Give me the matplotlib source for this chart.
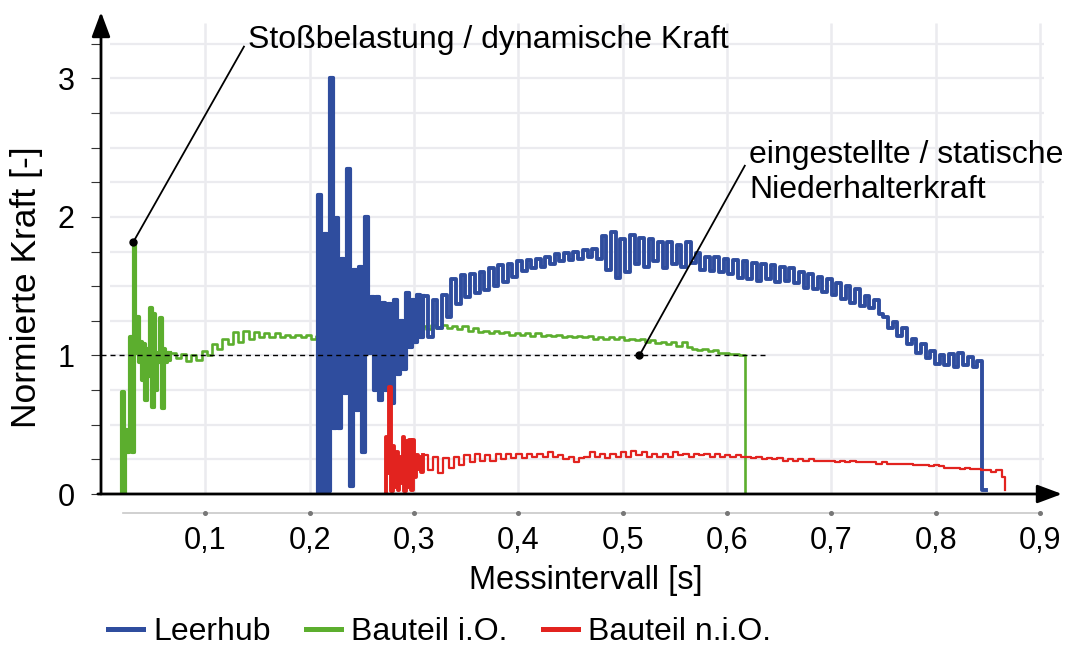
import numpy as np
import matplotlib
matplotlib.use("Agg")
import matplotlib.pyplot as plt
from matplotlib.lines import Line2D

# ---------------- data ----------------
x_ticks = [0.1, 0.2, 0.3, 0.4, 0.5, 0.6, 0.7, 0.8, 0.9]
x_tick_labels = ["0,1", "0,2", "0,3", "0,4", "0,5", "0,6", "0,7", "0,8", "0,9"]
y_ticks = [0, 1, 2, 3]
y_tick_labels = ["0", "1", "2", "3"]
y_minor_ticks = [0.25, 0.5, 0.75, 1.25, 1.5, 1.75, 2.25, 2.5, 2.75, 3.25]
series_names = ["Leerhub", "Bauteil i.O.", "Bauteil n.i.O."]
static_level = 1.0
static_line_end = 0.636

# Leerhub (blue)
leer_start = 0.208
leer_osc_dt = 0.0028
leer_osc_y = [2.16, 0.00, 1.88, 0.02, 3.00, 0.48, 1.99, 0.48, 1.70, 0.73,
              2.35, 0.06, 1.62, 0.61, 1.64, 0.30, 2.00, 1.02, 1.42, 0.75,
              1.42, 0.68, 1.38, 0.75, 1.37, 0.66, 1.40, 0.87, 1.25, 0.90,
              1.45, 1.06, 1.40, 1.10, 1.44, 1.13]
leer_t0 = 0.3088
leer_dt = 0.0045
leer_y = [1.43, 1.13, 1.40, 1.20, 1.44, 1.28, 1.55, 1.37, 1.58, 1.42,
          1.59, 1.45, 1.60, 1.47, 1.63, 1.50, 1.65, 1.53, 1.66, 1.57,
          1.68, 1.61, 1.69, 1.63, 1.70, 1.64, 1.71, 1.66, 1.73, 1.68,
          1.74, 1.69, 1.75, 1.70, 1.76, 1.71, 1.77, 1.70, 1.86, 1.62,
          1.89, 1.56, 1.84, 1.60, 1.87, 1.66, 1.85, 1.64, 1.84, 1.68,
          1.82, 1.63, 1.82, 1.66, 1.80, 1.64, 1.82, 1.67, 1.74, 1.62,
          1.71, 1.61, 1.71, 1.60, 1.70, 1.59, 1.69, 1.56, 1.68, 1.55,
          1.67, 1.54, 1.66, 1.55, 1.65, 1.53, 1.64, 1.54, 1.63, 1.52,
          1.60, 1.49, 1.59, 1.48, 1.57, 1.46, 1.55, 1.44, 1.52, 1.41,
          1.50, 1.38, 1.48, 1.36, 1.43, 1.34, 1.40, 1.30, 1.28, 1.20,
          1.24, 1.14, 1.20, 1.08, 1.12, 1.02, 1.08, 0.98, 1.03, 0.94,
          1.00, 0.93, 1.01, 0.92, 1.02, 0.93, 0.99, 0.92, 0.96, 0.03]
leer_end = 0.848
leer_end_y = 0.03

# Bauteil i.O. (green)
io_start = 0.0200
io_osc_dt = 0.0016
io_osc_y = [0.74, 0.00, 0.46, 0.30, 0.45, 1.13, 0.30, 1.82, 1.02, 1.28,
            0.95, 1.10, 0.82, 1.08, 0.68, 1.05, 0.85, 1.34, 0.63, 1.30,
            0.75, 1.02, 0.95, 1.27, 0.62, 1.05, 0.95, 1.02, 0.97]
io_t0 = 0.0664
io_dt = 0.005
io_y = [1.02, 0.98, 1.01, 0.96, 1.00, 0.97, 1.03, 1.00, 1.08, 1.05,
        1.12, 1.08, 1.17, 1.10, 1.18, 1.12, 1.17, 1.13, 1.16, 1.13,
        1.16, 1.13, 1.15, 1.13, 1.15, 1.13, 1.15, 1.12, 1.14, 1.12,
        1.14, 1.13, 1.15, 1.13, 1.15, 1.13, 1.15, 1.14, 1.16, 1.14,
        1.16, 1.15, 1.17, 1.15, 1.18, 1.17, 1.19, 1.18, 1.21, 1.19,
        1.22, 1.20, 1.22, 1.20, 1.21, 1.19, 1.21, 1.18, 1.20, 1.17,
        1.18, 1.16, 1.18, 1.16, 1.17, 1.15, 1.16, 1.15, 1.16, 1.14,
        1.16, 1.14, 1.15, 1.14, 1.15, 1.13, 1.14, 1.13, 1.14, 1.13,
        1.14, 1.12, 1.13, 1.12, 1.13, 1.12, 1.13, 1.11, 1.12, 1.11,
        1.12, 1.10, 1.11, 1.09, 1.10, 1.08, 1.10, 1.07, 1.10, 1.06,
        1.05, 1.04, 1.05, 1.03, 1.04, 1.02, 1.02, 1.01, 1.01, 1.00, 1.00]
io_end = 0.6175
io_end_y = 0.0

# Bauteil n.i.O. (red)
nio_start = 0.2730
nio_osc_dt = 0.0016
nio_osc_y = [0.41, 0.15, 0.77, 0.02, 0.35, 0.05, 0.30, 0.03, 0.27, 0.08,
             0.41, 0.02, 0.38, 0.05, 0.39, 0.03, 0.39, 0.12, 0.28, 0.18,
             0.27, 0.16]
nio_t0 = 0.3082
nio_dt = 0.005
nio_y = [0.28, 0.17, 0.27, 0.15, 0.26, 0.19, 0.27, 0.21, 0.28, 0.23,
         0.29, 0.24, 0.28, 0.24, 0.29, 0.25, 0.29, 0.26, 0.29, 0.26,
         0.29, 0.27, 0.29, 0.27, 0.30, 0.27, 0.28, 0.25, 0.27, 0.23,
         0.26, 0.27, 0.30, 0.27, 0.29, 0.26, 0.29, 0.27, 0.30, 0.27,
         0.31, 0.28, 0.30, 0.27, 0.29, 0.27, 0.29, 0.27, 0.30, 0.28,
         0.29, 0.27, 0.29, 0.28, 0.29, 0.27, 0.29, 0.27, 0.28, 0.27,
         0.28, 0.27, 0.27, 0.26, 0.27, 0.25, 0.26, 0.25, 0.26, 0.24,
         0.25, 0.24, 0.25, 0.24, 0.25, 0.24, 0.24, 0.24, 0.24, 0.23,
         0.24, 0.23, 0.24, 0.23, 0.23, 0.23, 0.23, 0.22, 0.23, 0.22,
         0.22, 0.22, 0.22, 0.22, 0.21, 0.21, 0.21, 0.20, 0.21, 0.20,
         0.19, 0.19, 0.19, 0.18, 0.19, 0.18, 0.18, 0.17, 0.17, 0.16, 0.17, 0.12]
nio_end = 0.8665
nio_end_y = 0.03

# annotations
ann1_text = "Stoßbelastung / dynamische Kraft"
ann1_point = (0.031, 1.82)
ann1_line_end = (0.137, 3.23)
ann1_text_pos = (0.141, 3.28)
ann2_text = "eingestellte / statische\nNiederhalterkraft"
ann2_point = (0.516, 1.0)
ann2_line_end = (0.617, 2.37)
ann2_text_pos = (0.621, 2.32)

# ---------------- style ----------------
BLUE = "#2f4d9e"
GREEN = "#5cae2e"
RED = "#e2231f"
GRID = "#ebebef"
FONT = ["Liberation Sans", "DejaVu Sans"]


def build(start, osc_dt, osc_y, t0, dt, ys, end_t, end_y):
    t_osc = start + osc_dt * np.arange(len(osc_y))
    t_main = t0 + dt * np.arange(len(ys))
    t = np.concatenate([[start], t_osc, t_main, [end_t]])
    y = np.concatenate([[0.0], osc_y, ys, [end_y]])
    n_osc = len(osc_y) + 2
    return t, y, n_osc


fig = plt.figure(figsize=(10.75, 6.48), dpi=100)
ax = fig.add_axes([101 / 1075, (648 - 494) / 648, 961 / 1075, 482 / 648])
ax.set_xlim(0, 0.921)
ax.set_ylim(0, 3.48)
for s in ax.spines.values():
    s.set_visible(False)

# grid
ax.hlines(np.arange(0.25, 3.3, 0.25), 0.009, 0.904, colors=GRID, lw=1.6, zorder=0)
ax.vlines(x_ticks, 0, 3.40, colors=GRID, lw=1.8, zorder=0)

# series
tb, yb, nb = build(leer_start, leer_osc_dt, leer_osc_y, leer_t0, leer_dt, leer_y, leer_end, leer_end_y)
tg, yg, ng = build(io_start, io_osc_dt, io_osc_y, io_t0, io_dt, io_y, io_end, io_end_y)
tr, yr, nr = build(nio_start, nio_osc_dt, nio_osc_y, nio_t0, nio_dt, nio_y, nio_end, nio_end_y)

ax.plot(tg, yg, drawstyle="steps-post", color=GREEN, lw=1.9, zorder=2)
ax.plot(tg[:ng], yg[:ng], drawstyle="steps-post", color=GREEN, lw=3.0, zorder=2)
ax.plot(tb, yb, drawstyle="steps-post", color=BLUE, lw=2.8, zorder=3)
ax.plot(tb[:nb], yb[:nb], drawstyle="steps-post", color=BLUE, lw=3.0, zorder=3)
ax.plot(tr, yr, drawstyle="steps-post", color=RED, lw=1.6, zorder=4)
ax.plot(tr[:nr], yr[:nr], drawstyle="steps-post", color=RED, lw=2.8, zorder=4)

# static level
ax.plot([0, static_line_end], [static_level, static_level], color="black", lw=1.0,
        ls=(0, (3.6, 2.9)), zorder=5)

# axes arrows
arrow_style = "-|>,head_length=0.75,head_width=0.28"
ax.annotate("", xy=(0, 3.48), xytext=(0, 0), xycoords="data",
            arrowprops=dict(arrowstyle=arrow_style, lw=2.0, color="black",
                            mutation_scale=20, shrinkA=0, shrinkB=0),
            annotation_clip=False, zorder=6)
ax.annotate("", xy=(0.921, 0), xytext=(-0.003, 0), xycoords="data",
            arrowprops=dict(arrowstyle=arrow_style, lw=2.0, color="black",
                            mutation_scale=20, shrinkA=0, shrinkB=0),
            annotation_clip=False, zorder=6)

# secondary gray x scale line with tick dots
ax.plot([0.021, 0.9], [-0.137, -0.137], color="#c8c8c8", lw=1.2, clip_on=False)
ax.plot(x_ticks, [-0.137] * len(x_ticks), "o", ms=2.6, color="#777777", clip_on=False)

# ticks
ax.set_xticks(x_ticks)
ax.set_xticklabels(x_tick_labels, family=FONT, fontsize=22)
ax.tick_params(axis="x", length=0, pad=23)
ax.set_yticks(y_ticks)
ax.set_yticklabels(y_tick_labels, family=FONT, fontsize=22)
ax.set_yticks(y_minor_ticks, minor=True)
ax.tick_params(axis="y", which="both", direction="out", length=7, width=0.8,
               color="#333333", pad=12)

ax.set_xlabel("Messintervall [s]", family=FONT, fontsize=23.5)
ax.xaxis.set_label_coords((586 - 101) / 961, (494 - 580) / 482)
ax.xaxis.label.set_va("center")
ax.set_ylabel("Normierte Kraft [-]", family=FONT, fontsize=25.5)
ax.yaxis.set_label_coords((27 - 101) / 961, (494 - 287) / 482)
ax.yaxis.label.set_va("center")

# annotations
for pt, le in [(ann1_point, ann1_line_end), (ann2_point, ann2_line_end)]:
    ax.plot([pt[0], le[0]], [pt[1], le[1]], color="black", lw=1.3, zorder=7, clip_on=False)
    ax.plot([pt[0]], [pt[1]], "o", color="black", ms=5, zorder=8)
ax.text(ann1_text_pos[0], ann1_text_pos[1], ann1_text, family=FONT, fontsize=23,
        ha="left", va="center")
ax.text(ann2_text_pos[0], ann2_text_pos[1], ann2_text, family=FONT, fontsize=23,
        ha="left", va="center", linespacing=1.2)

# legend
handles = [Line2D([], [], color=c, lw=3.6) for c in (BLUE, GREEN, RED)]
fig.legend(handles, series_names, loc="center left",
           bbox_to_anchor=(108 / 1075, 1 - 632 / 648), ncol=3, frameon=False,
           handlelength=1.1, handletextpad=0.32, columnspacing=1.1,
           borderpad=0, borderaxespad=0,
           prop={"family": FONT, "size": 23})

fig.savefig("out.png", dpi=100)
